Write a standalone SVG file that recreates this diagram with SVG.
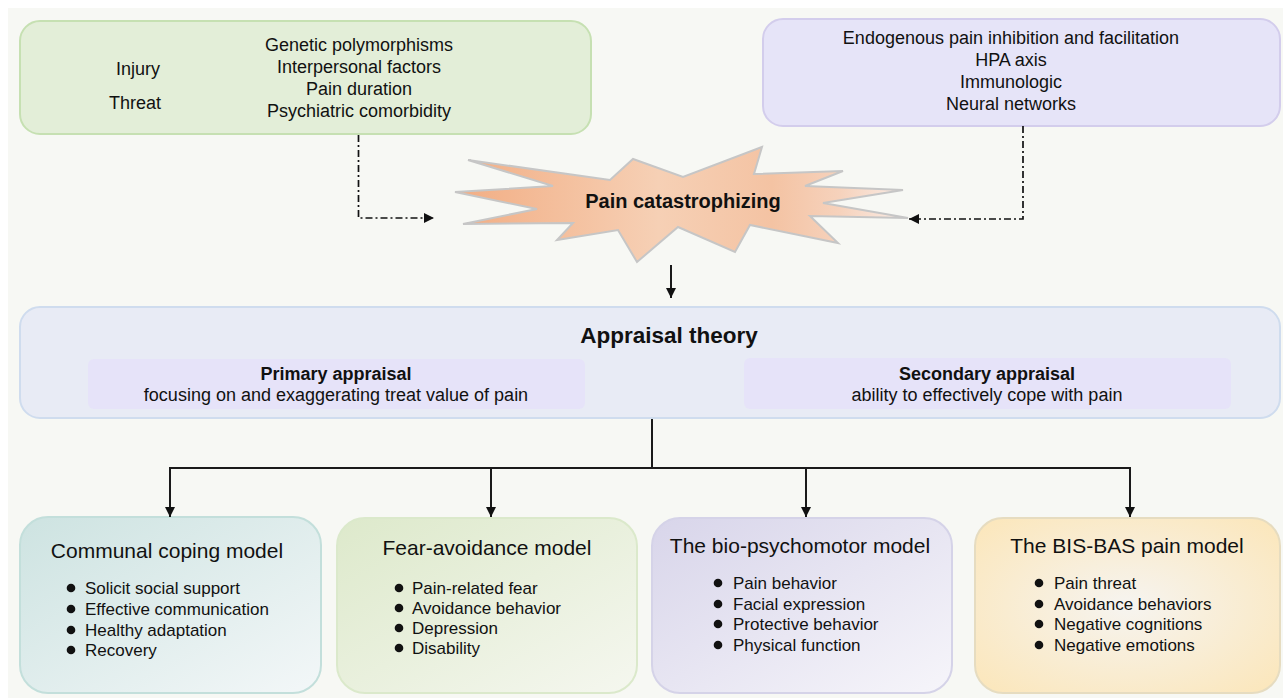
<svg xmlns="http://www.w3.org/2000/svg" width="1283" height="698" viewBox="0 0 1283 698">
<style>
text{font-family:"Liberation Sans",Arial,sans-serif;fill:#111;}
.t18{font-size:18px;}
.b18{font-size:18px;font-weight:bold;}
.ttl{font-size:21px;}
.li{font-size:17px;}
.dd{fill:none;stroke:#111;stroke-width:1.7;stroke-dasharray:7 3 2 3;}
.ln{fill:none;stroke:#1a1a1a;stroke-width:2;}
.dot{fill:#111;}
</style>
<defs>
<marker id="ah" viewBox="0 0 10 10" refX="10" refY="5" markerWidth="10" markerHeight="10" markerUnits="userSpaceOnUse" orient="auto">
<path d="M0,0 L10,5 L0,10 Z" fill="#111"/>
</marker>
<linearGradient id="gStar" gradientUnits="userSpaceOnUse" x1="455" y1="0" x2="908" y2="0">
<stop offset="0" stop-color="#f2ad83"/>
<stop offset="0.45" stop-color="#f6d0b5"/>
<stop offset="0.7" stop-color="#f4c3a3"/>
<stop offset="0.85" stop-color="#f6d2bc"/>
<stop offset="1" stop-color="#faeee8"/>
</linearGradient>
<linearGradient id="g1" x1="0" y1="0" x2="1" y2="1">
<stop offset="0" stop-color="#cde3e1"/>
<stop offset="1" stop-color="#f3f7f8"/>
</linearGradient>
<linearGradient id="g2" x1="0" y1="0" x2="1" y2="1">
<stop offset="0" stop-color="#dde9cb"/>
<stop offset="1" stop-color="#f5f7ef"/>
</linearGradient>
<linearGradient id="g3" x1="0" y1="0" x2="1" y2="1">
<stop offset="0" stop-color="#d8d5ea"/>
<stop offset="1" stop-color="#f6f5fa"/>
</linearGradient>
<radialGradient id="g4" cx="0.5" cy="0.5" r="0.65">
<stop offset="0" stop-color="#f6f4f0"/>
<stop offset="1" stop-color="#fbe7bd"/>
</radialGradient>
</defs>
<rect x="0" y="0" width="1283" height="698" fill="#ffffff"/>
<rect x="8" y="8" width="1275" height="690" fill="#f7f8f4"/>

<g id="factors-left">
<rect x="20" y="21" width="571" height="113" rx="20" fill="#e3eed8" stroke="#c6e0b2" stroke-width="2"/>
<text class="t18" x="138" y="75" text-anchor="middle">Injury</text>
<text class="t18" x="135" y="109" text-anchor="middle">Threat</text>
<text class="t18" x="359" y="51" text-anchor="middle">Genetic polymorphisms</text>
<text class="t18" x="359" y="73" text-anchor="middle">Interpersonal factors</text>
<text class="t18" x="359" y="95" text-anchor="middle">Pain duration</text>
<text class="t18" x="359" y="117" text-anchor="middle">Psychiatric comorbidity</text>
</g>

<g id="factors-right">
<rect x="763" y="19" width="517" height="107" rx="20" fill="#e6e4f8" stroke="#d3cdec" stroke-width="2"/>
<text class="t18" x="1011" y="44" text-anchor="middle">Endogenous pain inhibition and facilitation</text>
<text class="t18" x="1011" y="66" text-anchor="middle">HPA axis</text>
<text class="t18" x="1011" y="88" text-anchor="middle">Immunologic</text>
<text class="t18" x="1011" y="110" text-anchor="middle">Neural networks</text>
</g>

<g id="pain-catastrophizing">
<polygon points="468,160 610,180 633,159 683,177 762,147 754,174 843,171 805,186 903,190 823,203 908,218 810,216 838,243 750,225 735,252 678,227 637,262 618,230 557,240 573,223 463,224 537,209 455,192 553,186" fill="url(#gStar)" stroke="#c6c6c6" stroke-width="2" stroke-linejoin="miter"/>
<text x="683" y="208" text-anchor="middle" style="font-size:20px;font-weight:bold">Pain catastrophizing</text>
</g>

<g id="appraisal-theory">
<rect x="20" y="307" width="1260" height="111" rx="20" fill="#e8ebf5" stroke="#cfdcee" stroke-width="2"/>
<text x="669" y="343" text-anchor="middle" style="font-size:22.5px;font-weight:bold">Appraisal theory</text>
<rect x="88" y="359" width="497" height="50" rx="6" fill="#e6e3f9"/>
<text class="b18" x="336" y="380" text-anchor="middle">Primary appraisal</text>
<text class="t18" x="336" y="401" text-anchor="middle">focusing on and exaggerating treat value of pain</text>
<rect x="744" y="358" width="487" height="51" rx="6" fill="#e6e3f9"/>
<text class="b18" x="987" y="380" text-anchor="middle">Secondary appraisal</text>
<text class="t18" x="987" y="401" text-anchor="middle">ability to effectively cope with pain</text>
</g>

<g id="communal-coping">
<rect x="20" y="517" width="301" height="176" rx="28" fill="url(#g1)" stroke="#c3dfdb" stroke-width="2"/>
<text class="ttl" x="167" y="558" text-anchor="middle">Communal coping model</text>
<circle class="dot" cx="71" cy="588" r="4.3"/><text class="li" x="85" y="594">Solicit social support</text>
<circle class="dot" cx="71" cy="609" r="4.3"/><text class="li" x="85" y="615">Effective communication</text>
<circle class="dot" cx="71" cy="630" r="4.3"/><text class="li" x="85" y="636">Healthy adaptation</text>
<circle class="dot" cx="71" cy="650" r="4.3"/><text class="li" x="85" y="656">Recovery</text>
</g>

<g id="fear-avoidance">
<rect x="337" y="518" width="300" height="175" rx="28" fill="url(#g2)" stroke="#dbe9cb" stroke-width="2"/>
<text class="ttl" x="487" y="555" text-anchor="middle">Fear-avoidance model</text>
<circle class="dot" cx="399" cy="588" r="4.3"/><text class="li" x="412" y="594">Pain-related fear</text>
<circle class="dot" cx="399" cy="608" r="4.3"/><text class="li" x="412" y="614">Avoidance behavior</text>
<circle class="dot" cx="399" cy="628" r="4.3"/><text class="li" x="412" y="634">Depression</text>
<circle class="dot" cx="399" cy="648" r="4.3"/><text class="li" x="412" y="654">Disability</text>
</g>

<g id="bio-psychomotor">
<rect x="652" y="518" width="300" height="175" rx="28" fill="url(#g3)" stroke="#d5d3e8" stroke-width="2"/>
<text class="ttl" x="800" y="553" text-anchor="middle">The bio-psychomotor model</text>
<circle class="dot" cx="718" cy="583" r="4.3"/><text class="li" x="733" y="589">Pain behavior</text>
<circle class="dot" cx="718" cy="604" r="4.3"/><text class="li" x="733" y="610">Facial expression</text>
<circle class="dot" cx="718" cy="624" r="4.3"/><text class="li" x="733" y="630">Protective behavior</text>
<circle class="dot" cx="718" cy="645" r="4.3"/><text class="li" x="733" y="651">Physical function</text>
</g>

<g id="bis-bas">
<rect x="975" y="518" width="305" height="175" rx="28" fill="url(#g4)" stroke="#e6dcc0" stroke-width="2"/>
<text class="ttl" x="1127" y="553" text-anchor="middle">The BIS-BAS pain model</text>
<circle class="dot" cx="1039" cy="583" r="4.3"/><text class="li" x="1054" y="589">Pain threat</text>
<circle class="dot" cx="1039" cy="604" r="4.3"/><text class="li" x="1054" y="610">Avoidance behaviors</text>
<circle class="dot" cx="1039" cy="624" r="4.3"/><text class="li" x="1054" y="630">Negative cognitions</text>
<circle class="dot" cx="1039" cy="645" r="4.3"/><text class="li" x="1054" y="651">Negative emotions</text>
</g>

<g id="connectors">
<path class="dd" d="M358.5,135 V218 H434" marker-end="url(#ah)"/>
<path class="dd" d="M1023,126 V219 H909" marker-end="url(#ah)"/>
<path class="ln" d="M671,265 V298" marker-end="url(#ah)"/>
<path class="ln" d="M652,419 V468"/>
<path class="ln" d="M170,468 H1130"/>
<path class="ln" d="M170,467 V517" marker-end="url(#ah)"/>
<path class="ln" d="M491,468 V517" marker-end="url(#ah)"/>
<path class="ln" d="M806,468 V517" marker-end="url(#ah)"/>
<path class="ln" d="M1130,467 V517" marker-end="url(#ah)"/>
</g>
</svg>
